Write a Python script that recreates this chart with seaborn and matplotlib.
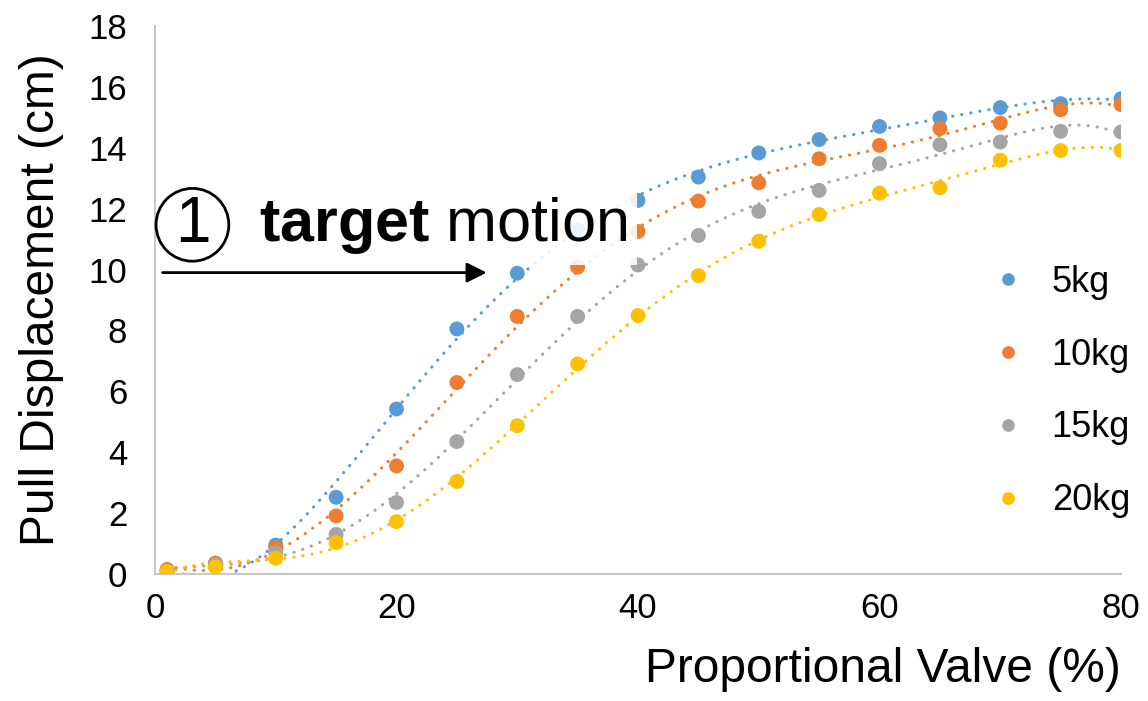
import numpy as np
import pandas as pd
import matplotlib
matplotlib.use('Agg')
import matplotlib.pyplot as plt
import seaborn as sns

# valve opening (%) and pull displacement (cm) per load
valve = [1, 5, 10, 15, 20, 25, 30, 35, 40, 45, 50, 55, 60, 65, 70, 75, 80]
disp_5kg = [0.10, 0.34, 0.95, 2.52, 5.42, 8.05, 9.88, 11.30, 12.27, 13.04, 13.83, 14.27, 14.70, 14.98, 15.32, 15.45, 15.61]
disp_10kg = [0.15, 0.36, 0.87, 1.91, 3.55, 6.29, 8.46, 10.08, 11.25, 12.25, 12.85, 13.64, 14.08, 14.63, 14.81, 15.25, 15.42]
disp_15kg = [0.10, 0.30, 0.70, 1.30, 2.35, 4.35, 6.55, 8.46, 10.15, 11.12, 11.91, 12.60, 13.48, 14.10, 14.19, 14.54, 14.52]
disp_20kg = [0.08, 0.23, 0.52, 1.03, 1.72, 3.04, 4.87, 6.90, 8.49, 9.80, 10.93, 11.81, 12.51, 12.69, 13.59, 13.91, 13.91]
loads = ['5kg', '10kg', '15kg', '20kg']
colors = ['#5B9BD5', '#ED7D31', '#A5A5A5', '#FFC000']

series = dict(zip(loads, [disp_5kg, disp_10kg, disp_15kg, disp_20kg]))
df = pd.concat([pd.DataFrame({'valve': valve, 'disp': v, 'load': k}) for k, v in series.items()])

sns.set_style('white')
plt.rcParams['font.family'] = ['Liberation Sans', 'DejaVu Sans']
plt.rcParams['mathtext.fontset'] = 'custom'
plt.rcParams['mathtext.rm'] = 'Liberation Sans'
plt.rcParams['mathtext.bf'] = 'Liberation Sans:bold'
for k in ['text.color', 'axes.labelcolor', 'xtick.color', 'ytick.color']:
    plt.rcParams[k] = 'black'

fig = plt.figure(figsize=(11.48, 7.01), dpi=100)
ax = fig.add_axes([155 / 1148, 1 - 574 / 701, 966 / 1148, 548 / 701])

# polynomial trendlines (order 6, like the spreadsheet ones)
xs = np.linspace(min(valve), max(valve), 400)
for (name, vals), c in zip(series.items(), colors):
    coef = np.polyfit(valve, vals, 6)
    ax.plot(xs, np.polyval(coef, xs), color=c, lw=2.2,
            linestyle=(0, (0.1, 2.9)), dash_capstyle='round', zorder=2)

sns.scatterplot(data=df, x='valve', y='disp', hue='load', palette=colors,
                s=115, edgecolor='none', ax=ax, zorder=3)

ax.set_xlim(0, 80)
ax.set_ylim(0, 18)
ax.set_xticks([0, 20, 40, 60, 80])
ax.set_yticks(range(0, 19, 2))
ax.tick_params(axis='both', length=0, labelsize=25)
ax.tick_params(axis='x', pad=13)
ax.tick_params(axis='y', pad=20)
sns.despine(ax=ax)
for s in ['left', 'bottom']:
    ax.spines[s].set_color('#C8C8C8')
    ax.spines[s].set_linewidth(1.5)

ax.set_xlabel('Proportional Valve (%)', fontsize=34.5, ha='right', va='center')
ax.xaxis.set_label_coords(1.0, -0.175)
ax.set_ylabel('Pull Displacement (cm)', fontsize=34.5, va='center')
ax.yaxis.set_label_coords(-0.117, 0.5)

ax.legend(frameon=False, fontsize=26, loc='center left',
          bbox_to_anchor=(0.834, 0.333), labelspacing=1.05,
          handlelength=0.8, handletextpad=0.82, markerscale=0.85)

# target motion annotation
ax.text(8.6, 10.95, r'$\bf{target}$ motion', fontsize=44, va='baseline',
        zorder=5, bbox=dict(boxstyle='square,pad=0.16', fc='white', ec='none', alpha=0.88))
ax.text(3.1, 11.47, '1', fontsize=46, ha='center', va='center', zorder=6,
        bbox=dict(boxstyle='circle,pad=0.1', fc='white', ec='black', lw=2))
ax.annotate('', xy=(27.7, 9.9), xytext=(0.4, 9.9), zorder=6,
            arrowprops=dict(arrowstyle='-|>', color='black', lw=2, mutation_scale=30))

fig.savefig('out.png', dpi=100)
